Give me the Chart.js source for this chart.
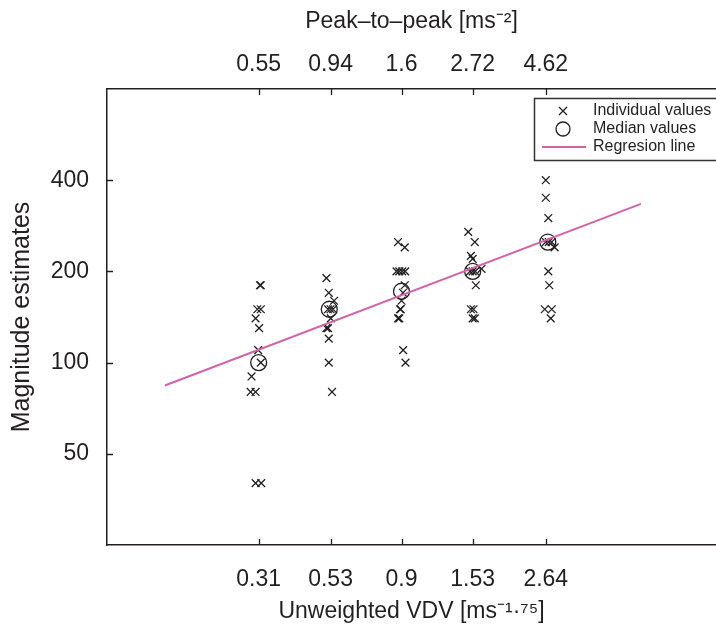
<!DOCTYPE html>
<html><head><meta charset="utf-8">
<script src="https://cdn.jsdelivr.net/npm/chart.js@4/dist/chart.umd.min.js"></script>
<style>html,body{margin:0;padding:0;background:#fff;overflow:hidden}#wrap{width:716px;height:626px}</style>
</head><body><div id="wrap"><canvas id="c" width="716" height="626"></canvas></div>
<script>
// Tick values / labels
const vdvTicks = [0.31, 0.53, 0.9, 1.53, 2.64];
const peakLabels = ['0.55', '0.94', '1.6', '2.72', '4.62'];
const yTicks = [50, 100, 200, 400];

// Individual values (x = unweighted VDV with small jitter, y = magnitude estimate)
const indivX = [
  0.313, 0.315, 0.307, 0.315, 0.303, 0.311, 0.309, 0.315, 0.294, 0.292, 0.303, 0.303, 0.316,
  0.514, 0.523, 0.544, 0.52, 0.53, 0.54, 0.531, 0.514, 0.52, 0.523, 0.523, 0.536,
  0.877, 0.922, 0.867, 0.885, 0.905, 0.925, 0.922, 0.91, 0.90, 0.89, 0.895, 0.877, 0.885, 0.911, 0.927,
  1.48, 1.555, 1.51, 1.53, 1.50, 1.53, 1.56, 1.635, 1.567, 1.51, 1.54, 1.53, 1.555,
  2.64, 2.64, 2.69, 2.64, 2.70, 2.76, 2.82, 2.69, 2.71, 2.62, 2.76, 2.74
];
const indivY = [
  180, 180, 150, 150, 140, 130, 110, 100, 90, 80, 80, 40, 40,
  190, 170, 160, 150, 150, 150, 140, 130, 130, 120, 100, 80,
  250, 240, 200, 200, 200, 200, 180, 170, 160, 150, 150, 140, 140, 110, 100,
  270, 250, 225, 220, 200, 200, 200, 204, 180, 150, 150, 140, 140,
  400, 350, 300, 250, 250, 250, 240, 200, 180, 150, 150, 140
];
// Median values
const medianX = [0.31, 0.525, 0.9, 1.53, 2.68];
const medianY = [100, 150, 172, 200, 250];
// Regression line end points
const regX = [0.154, 5.37];
const regY = [84, 334];

const seriesNames = ['Individual values', 'Median values', 'Regresion line'];
const FONT = "'Liberation Sans', Arial, Helvetica, sans-serif";
const INK = '#231f20';
const PINK = '#d263a9';

const toPts = (xs, ys) => xs.map((x, i) => ({x: x, y: ys[i]}));

const innerTicks = {
  id: 'innerTicks',
  afterDatasetsDraw(chart) {
    const {ctx, chartArea: a, scales} = chart;
    ctx.save();
    ctx.strokeStyle = INK; ctx.lineWidth = 1.3;
    const L = 6;
    ctx.beginPath();
    scales.x.ticks.forEach(t => {
      const px = Math.round(scales.x.getPixelForValue(t.value)) + 0.5;
      ctx.moveTo(px, a.bottom); ctx.lineTo(px, a.bottom - L);
    });
    scales.x2.ticks.forEach(t => {
      const px = Math.round(scales.x2.getPixelForValue(t.value)) + 0.5;
      ctx.moveTo(px, a.top); ctx.lineTo(px, a.top + L);
    });
    scales.y.ticks.forEach(t => {
      const py = Math.round(scales.y.getPixelForValue(t.value)) + 0.5;
      ctx.moveTo(a.left, py); ctx.lineTo(a.left + L, py);
    });
    ctx.stroke();
    ctx.restore();
  }
};

const boxLegend = {
  id: 'boxLegend',
  afterDraw(chart) {
    const {ctx, chartArea: a} = chart;
    const x0 = a.right - 182, y0 = a.top + 9, w = 200, h = 62;
    ctx.save();
    ctx.fillStyle = '#fff';
    ctx.fillRect(x0, y0, w, h);
    ctx.strokeStyle = '#333'; ctx.lineWidth = 1.5;
    ctx.strokeRect(x0 + 0.5, y0 + 0.5, w, h);
    const rows = [y0 + 13, y0 + 31, y0 + 49];
    const mx = x0 + 29;
    ctx.strokeStyle = INK; ctx.lineWidth = 1.3;
    ctx.beginPath();
    ctx.moveTo(mx - 4, rows[0] - 4); ctx.lineTo(mx + 4, rows[0] + 4);
    ctx.moveTo(mx + 4, rows[0] - 4); ctx.lineTo(mx - 4, rows[0] + 4);
    ctx.stroke();
    ctx.beginPath(); ctx.arc(mx, rows[1], 7, 0, Math.PI * 2); ctx.stroke();
    ctx.strokeStyle = PINK; ctx.lineWidth = 2;
    ctx.beginPath(); ctx.moveTo(x0 + 8, rows[2]); ctx.lineTo(x0 + 52, rows[2]); ctx.stroke();
    ctx.fillStyle = INK;
    ctx.font = "16px " + FONT;
    ctx.textBaseline = 'middle'; ctx.textAlign = 'left';
    seriesNames.forEach((n, i) => ctx.fillText(n, x0 + 59, rows[i]));
    ctx.restore();
  }
};

const tickFont = {family: FONT, size: 23};
const titleFont = {family: FONT, size: 23};
const yTitleFont = {family: FONT, size: 25};

new Chart(document.getElementById('c'), {
  type: 'scatter',
  data: {
    datasets: [
      {label: seriesNames[2], type: 'line', data: toPts(regX, regY), borderColor: PINK, borderWidth: 2,
       pointRadius: 0, fill: false, order: 0, xAxisID: 'x', yAxisID: 'y'},
      {label: seriesNames[0], data: toPts(indivX, indivY), pointStyle: 'crossRot', pointRadius: 5.5,
       borderColor: INK, backgroundColor: INK, pointBorderWidth: 1.3, order: 1, xAxisID: 'x', yAxisID: 'y'},
      {label: seriesNames[1], data: toPts(medianX, medianY), pointStyle: 'circle', pointRadius: 8,
       borderColor: INK, backgroundColor: 'rgba(0,0,0,0)', pointBorderWidth: 1.3, order: 2, xAxisID: 'x', yAxisID: 'y'}
    ]
  },
  options: {
    responsive: false, animation: false, devicePixelRatio: 1,
    layout: {padding: 0, autoPadding: false},
    plugins: {legend: {display: false}, tooltip: {enabled: false}},
    scales: {
      x: {
        type: 'logarithmic', position: 'bottom', min: 0.1, max: 9.4,
        afterBuildTicks: s => { s.ticks = vdvTicks.map(v => ({value: v})); },
        afterFit: s => { s.height = 81; },
        ticks: {font: tickFont, color: INK, padding: 21, maxRotation: 0, autoSkip: false,
                callback: (v) => String(v)},
        grid: {display: false, drawTicks: false},
        border: {display: true, color: INK, width: 1.5},
        title: {display: true, text: 'Unweighted VDV [ms\u207B\u00B9\u00B7\u2077\u2075]', font: titleFont, color: INK,
                padding: {top: 0, bottom: 1}}
      },
      x2: {
        type: 'logarithmic', position: 'top', min: 0.1, max: 9.4,
        afterBuildTicks: s => { s.ticks = vdvTicks.map(v => ({value: v})); },
        afterFit: s => { s.height = 89; },
        ticks: {font: tickFont, color: INK, padding: 11, maxRotation: 0, autoSkip: false,
                callback: (v, i) => peakLabels[i]},
        grid: {display: false, drawTicks: false},
        border: {display: true, color: INK, width: 1.5},
        title: {display: true, text: 'Peak\u2013to\u2013peak [ms\u207B\u00B2]', font: titleFont, color: INK,
                padding: {top: 8, bottom: 0}}
      },
      y: {
        type: 'logarithmic', position: 'left', min: 25, max: 800,
        afterBuildTicks: s => { s.ticks = yTicks.map(v => ({value: v})); },
        afterFit: s => { s.width = 107; },
        ticks: {font: tickFont, color: INK, padding: 18, callback: (v) => String(v)},
        grid: {display: false, drawTicks: false},
        border: {display: true, color: INK, width: 1.5},
        title: {display: true, text: 'Magnitude estimates', font: yTitleFont, color: INK,
                padding: {top: 7, bottom: 0}}
      }
    }
  },
  plugins: [innerTicks, boxLegend]
});
</script>
</body></html>
